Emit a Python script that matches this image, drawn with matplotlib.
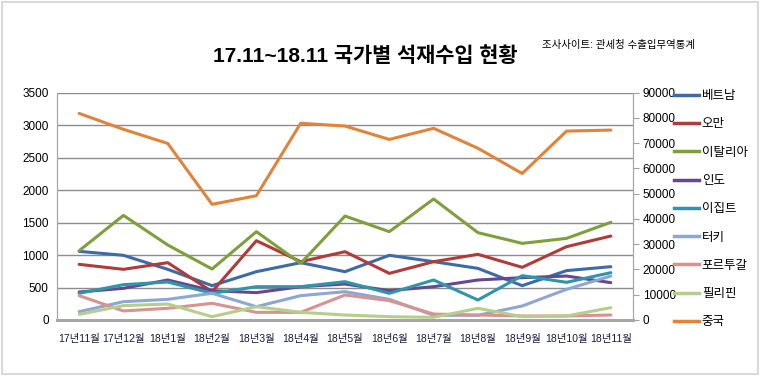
import matplotlib.pyplot as plt
from matplotlib.lines import Line2D
from matplotlib.patches import Rectangle

plt.rcParams['font.family'] = ['Liberation Sans Narrow', 'Liberation Sans', 'Noto Sans CJK KR']

months = ['17년11월', '17년12월', '18년1월', '18년2월', '18년3월', '18년4월', '18년5월',
          '18년6월', '18년7월', '18년8월', '18년9월', '18년10월', '18년11월']

vietnam = [1057, 996, 780, 529, 744, 883, 744, 996, 898, 795, 529, 760, 821]
oman = [857, 780, 883, 436, 1221, 898, 1052, 718, 898, 1011, 811, 1129, 1293]
italy = [1067, 1611, 1155, 785, 1360, 872, 1601, 1360, 1863, 1345, 1180, 1257, 1504]
india = [431, 488, 616, 452, 421, 513, 554, 452, 513, 616, 652, 677, 575]
egypt = [411, 544, 585, 411, 513, 513, 590, 411, 616, 308, 683, 580, 729]
turkey = [128, 282, 318, 411, 205, 375, 436, 318, 72, 72, 216, 472, 677]
portugal = [375, 139, 180, 257, 118, 118, 385, 298, 92, 77, 62, 62, 77]
philippines = [87, 221, 246, 51, 205, 118, 77, 51, 41, 180, 51, 62, 190]
# 중국 is on the secondary axis
china = [81800, 75500, 69900, 45800, 49200, 77900, 76800, 71500, 75900, 68000, 58000, 74800, 75200]

left_series = [
    ('베트남', vietnam, '#3D6BA8'),
    ('오만', oman, '#B03B38'),
    ('이탈리아', italy, '#7EA03A'),
    ('인도', india, '#674890'),
    ('이집트', egypt, '#2F95AC'),
    ('터키', turkey, '#8DA7D5'),
    ('포르투갈', portugal, '#D89391'),
    ('필리핀', philippines, '#B5CF8B'),
]
china_color = '#E1843A'

fig = plt.figure(figsize=(7.6, 3.76), dpi=100)
ax = fig.add_axes([57 / 760, 1 - 320 / 376, 576 / 760, 227.3 / 376])
ax2 = ax.twinx()

x = range(len(months))
lw = 2.2
for name, vals, col in left_series:
    ax.plot(x, vals, color=col, lw=lw, solid_capstyle='round', zorder=3)
ax2.plot(x, china, color=china_color, lw=lw, solid_capstyle='round')

ax.set_xlim(-0.5, len(months) - 0.5)
ax.set_ylim(0, 3500)
ax.set_yticks(range(0, 3501, 500))
ax2.set_ylim(0, 90000)
ax2.set_yticks(range(0, 90001, 10000))

ax.grid(axis='y', color='#8c8c8c', lw=1)
ax.set_axisbelow(True)
ax.set_xticks(list(x))
ax.set_xticklabels(months, fontsize=7.5, color='#1a1a40')
ax.tick_params(axis='x', length=0, pad=10)
ax.tick_params(axis='y', length=0, labelsize=8.5, pad=6)
ax2.tick_params(axis='y', length=4, color='#a0a0a0', labelsize=8.5, pad=3)

for a in (ax, ax2):
    a.spines['top'].set_visible(False)
    a.spines['left'].set_color('#a6a6a6')
    a.spines['right'].set_color('#a6a6a6')
    a.spines['bottom'].set_color('#a6a6a6')
    a.spines['bottom'].set_linewidth(2)

handles = [Line2D([], [], color=c, lw=2.5) for _, _, c in left_series]
handles.append(Line2D([], [], color=china_color, lw=2.5))
labels = [n for n, _, _ in left_series] + ['중국']
fig.legend(handles, labels, loc='upper left', bbox_to_anchor=(668 / 760, 1 - 84 / 376),
           frameon=False, fontsize=9, handlelength=2.0, handletextpad=0.2,
           labelspacing=1.3, borderpad=0)

fig.text(365 / 760, 1 - 56 / 376, '17.11~18.11 국가별 석재수입 현황', ha='center', va='center',
         fontsize=15, fontweight='bold')
fig.text(695 / 760, 1 - 45 / 376, '조사사이트: 관세청 수출입무역통계', ha='right', va='center',
         fontsize=7.5)

fig.patches.append(Rectangle((0.003, 0.005), 0.994, 0.99, transform=fig.transFigure,
                             fill=False, edgecolor='#d9d9d9', lw=1.5))

fig.savefig('out.png', dpi=100)
